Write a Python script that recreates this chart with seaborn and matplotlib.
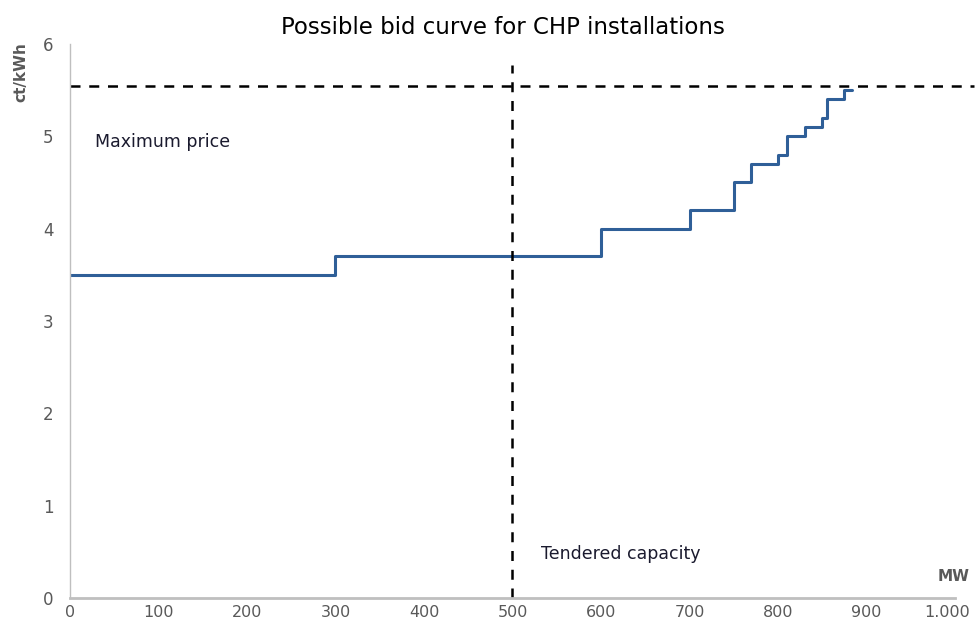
import matplotlib
matplotlib.use("Agg")
import matplotlib.pyplot as plt
import matplotlib.ticker as mticker
import matplotlib.transforms as mtransforms
import seaborn as sns
import pandas as pd

# Bid curve steps (capacity in MW where each price level starts)
capacity_mw = [0, 300, 600, 700, 750, 770, 800, 810, 830, 850, 855, 875, 884]
price_ct = [3.5, 3.7, 4.0, 4.2, 4.5, 4.7, 4.8, 5.0, 5.1, 5.2, 5.4, 5.5, 5.5]
max_price = 5.54
tendered_capacity = 500
x_ticks = [0, 100, 200, 300, 400, 500, 600, 700, 800, 900, 1000]
y_ticks = [0, 1, 2, 3, 4, 5, 6]

df = pd.DataFrame({"MW": capacity_mw, "price": price_ct})

sns.set_style("white")
plt.rcParams["font.family"] = ["DejaVu Sans"]
grey = "#595959"

fig = plt.figure(figsize=(9.76, 6.28), dpi=100)
ax = fig.add_axes([0.0717, 0.0478, 0.9068, 0.8822])

sns.lineplot(data=df, x="MW", y="price", drawstyle="steps-post",
             color="#2F5F98", linewidth=2.2, ax=ax)

ax.axhline(max_price, xmin=0, xmax=1.022, color="black", linestyle=(0, (4, 3.5)),
           linewidth=1.8, clip_on=False)
ax.plot([tendered_capacity, tendered_capacity], [0, 5.77], color="black",
        linestyle=(0, (4, 3.5)), linewidth=1.8)

ax.set_xlim(0, 1000)
ax.set_ylim(0, 6)
ax.set_xticks(x_ticks)
ax.set_yticks(y_ticks)
ax.xaxis.set_major_formatter(mticker.FuncFormatter(lambda v, p: f"{int(v):,}".replace(",", ".")))
ax.tick_params(axis="both", length=0, labelcolor=grey)
ax.tick_params(axis="y", pad=12, labelsize=12)
ax.tick_params(axis="x", pad=5, labelsize=11.5)
ax.set_xlabel("")
ax.set_ylabel("")

# keep the last x label inside the canvas
last = ax.get_xticklabels()[-1]
last.set_transform(last.get_transform() + mtransforms.ScaledTranslation(-8 / 100, 0, fig.dpi_scale_trans))

for s in ["top", "right"]:
    ax.spines[s].set_visible(False)
ax.spines["left"].set_color("#BFBFBF")
ax.spines["left"].set_linewidth(1)
ax.spines["bottom"].set_color("#BFBFBF")
ax.spines["bottom"].set_linewidth(2)

fig.text(503 / 976, 1 - 28 / 628, "Possible bid curve for CHP installations",
         fontsize=16.5, color="black", ha="center", va="center")

ax.text(28, 4.94, "Maximum price", fontsize=12.5, color="#1a1a2e", va="center")
ax.text(532, 0.48, "Tendered capacity", fontsize=12.5, color="#1a1a2e", va="center")
ax.text(1017, 0.23, "MW", fontsize=11, color=grey, fontweight="bold", ha="right",
        va="center", clip_on=False)
ax.text(-0.055, 0.95, "ct/kWh", transform=ax.transAxes, rotation=90, fontsize=11,
        color=grey, fontweight="bold", ha="center", va="center")

fig.savefig("out.png", dpi=100)
